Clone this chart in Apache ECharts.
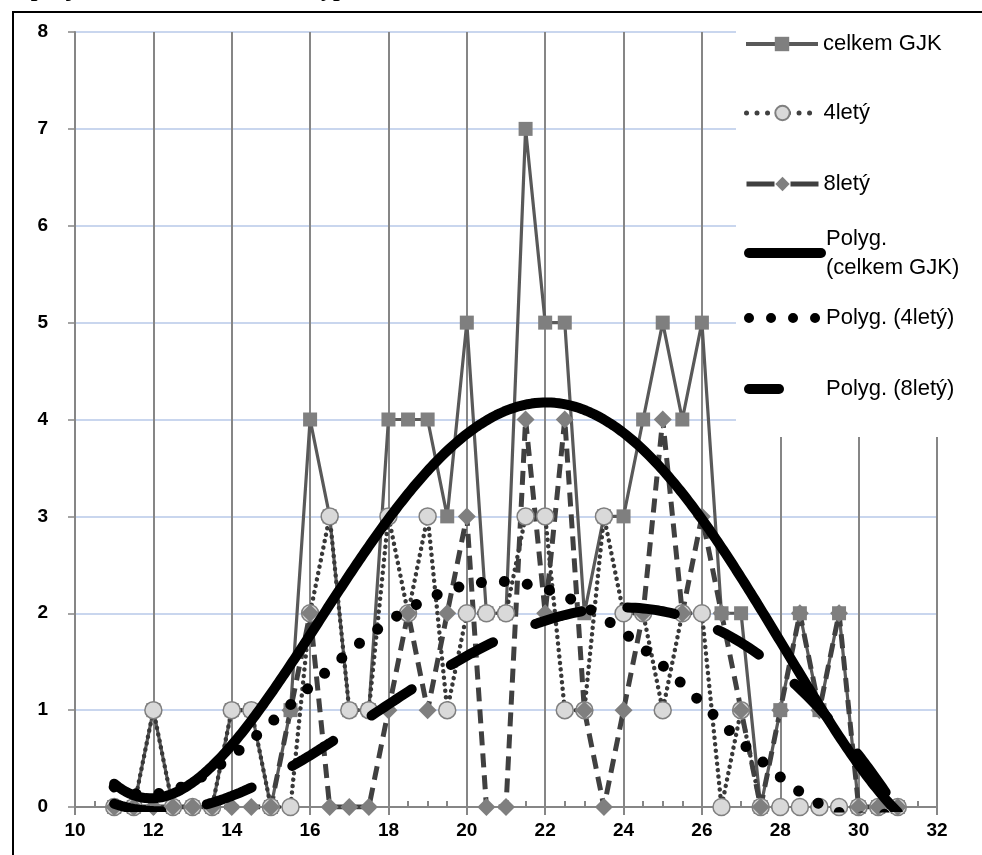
<!DOCTYPE html>
<html>
<head>
<meta charset="utf-8">
<script src="https://cdn.jsdelivr.net/npm/echarts@6/dist/echarts.min.js"></script>
<style>
  html, body { margin: 0; padding: 0; background: #fff; }
  #chart { width: 982px; height: 855px; }
</style>
</head>
<body>
<div id="chart"></div>
<script>
// Age in years, one sample every half year
const ages = [11, 11.5, 12, 12.5, 13, 13.5, 14, 14.5, 15, 15.5, 16, 16.5, 17, 17.5, 18, 18.5, 19, 19.5, 20, 20.5,
              21, 21.5, 22, 22.5, 23, 23.5, 24, 24.5, 25, 25.5, 26, 26.5, 27, 27.5, 28, 28.5, 29, 29.5, 30, 30.5, 31];
// Counts per age
const celkemGJK = [0, 0, 1, 0, 0, 0, 1, 1, 0, 1, 4, 3, 1, 1, 4, 4, 4, 3, 5, 2,
                   2, 7, 5, 5, 2, 3, 3, 4, 5, 4, 5, 2, 2, 0, 1, 2, 1, 2, 0, 0, 0];
const ctyrlety  = [0, 0, 1, 0, 0, 0, 1, 1, 0, 0, 2, 3, 1, 1, 3, 2, 3, 1, 2, 2,
                   2, 3, 3, 1, 1, 3, 2, 2, 1, 2, 2, 0, 1, 0, 0, 0, 0, 0, 0, 0, 0];
const osmilety  = [0, 0, 0, 0, 0, 0, 0, 0, 0, 1, 2, 0, 0, 0, 1, 2, 1, 2, 3, 0,
                   0, 4, 2, 4, 1, 0, 1, 2, 4, 2, 3, 2, 1, 0, 1, 2, 1, 2, 0, 0, 0];

// Axis ranges and tick steps
const xRange = [10, 32], xStep = 2;
const yRange = [0, 8], yStep = 1;

// Order of the polynomial trendlines
const TREND_ORDER = 4;

const pairs = (xs, ys) => xs.map((x, i) => [x, ys[i]]);

// Least-squares polynomial fit (centred abscissa for stability)
function polyFit(xs, ys, deg) {
  const n = deg + 1, c0 = 21, s = 10;
  const A = Array.from({ length: n }, () => new Array(n + 1).fill(0));
  xs.forEach((x, k) => {
    const t = (x - c0) / s;
    const p = [];
    for (let i = 0; i < n; i++) p.push(Math.pow(t, i));
    for (let i = 0; i < n; i++) {
      for (let j = 0; j < n; j++) A[i][j] += p[i] * p[j];
      A[i][n] += p[i] * ys[k];
    }
  });
  for (let c = 0; c < n; c++) {
    let piv = c;
    for (let r = c + 1; r < n; r++) if (Math.abs(A[r][c]) > Math.abs(A[piv][c])) piv = r;
    [A[c], A[piv]] = [A[piv], A[c]];
    for (let r = 0; r < n; r++) {
      if (r === c) continue;
      const f = A[r][c] / A[c][c];
      for (let k = c; k <= n; k++) A[r][k] -= f * A[c][k];
    }
  }
  const coef = A.map((row, i) => row[n] / row[i]);
  return x => {
    const t = (x - c0) / s;
    let v = 0;
    for (let i = n - 1; i >= 0; i--) v = v * t + coef[i];
    return v;
  };
}

function trendCurve(ys) {
  const f = polyFit(ages, ys, TREND_ORDER);
  const pts = [];
  const x0 = ages[0], x1 = ages[ages.length - 1];
  for (let i = 0; i <= 400; i++) {
    const x = x0 + (x1 - x0) * i / 400;
    pts.push([x, f(x)]);
  }
  return pts;
}

const chart = echarts.init(document.getElementById('chart'), null, { renderer: 'canvas' });

const GRID_V = '#868686';
const GRID_H = '#b7c8e8';
const TEXT_FONT = '"Liberation Sans", Arial, sans-serif';

const legendBase = {
  orient: 'vertical', left: 744, padding: 0, itemGap: 0,
  itemWidth: 72, itemHeight: 18, selectedMode: false,
  textStyle: { fontFamily: TEXT_FONT, fontSize: 22, color: '#000', lineHeight: 24 }
};
const hiddenSymbol = { opacity: 0 };

const option = {
  animation: false,
  backgroundColor: '#fff',
  grid: { left: 75, right: 45, top: 32, bottom: 48, containLabel: false },
  xAxis: [
    {
      type: 'value', min: xRange[0], max: xRange[1], interval: xStep,
      axisLine: { show: true, lineStyle: { color: GRID_V, width: 2 } },
      axisTick: { show: true, inside: false, length: 8, lineStyle: { color: GRID_V, width: 2 } },
      minorTick: { show: false },
      splitLine: { show: true, lineStyle: { color: GRID_V, width: 2 } },
      axisLabel: { margin: 14, color: '#000', fontFamily: TEXT_FONT, fontWeight: 'bold', fontSize: 19 }
    },
    {
      type: 'value', min: xRange[0], max: xRange[1], interval: xStep, position: 'bottom',
      axisLine: { show: false },
      axisTick: { show: false, inside: true, length: 6 },
      minorTick: { show: true, splitNumber: 4, length: 6, lineStyle: { color: GRID_V, width: 2 } },
      splitLine: { show: false },
      axisLabel: { show: false }
    }
  ],
  yAxis: {
    type: 'value', min: yRange[0], max: yRange[1], interval: yStep,
    axisLine: { show: true, lineStyle: { color: GRID_V, width: 2 } },
    axisTick: { show: true, inside: false, length: 7, lineStyle: { color: GRID_V, width: 1.5 } },
    splitLine: { show: true, lineStyle: { color: GRID_H, width: 1.5 } },
    axisLabel: { margin: 27, color: '#000', fontFamily: TEXT_FONT, fontWeight: 'bold', fontSize: 19 }
  },
  legend: [
    Object.assign({}, legendBase, {
      top: 44 - 12, data: ['celkem GJK'],
      lineStyle: { color: '#595959', width: 4 }
    }),
    Object.assign({}, legendBase, {
      top: 113 - 12, data: ['4letý'],
      lineStyle: { color: '#404040', width: 5, type: [0.01, 10.5], cap: 'round' }
    }),
    Object.assign({}, legendBase, {
      top: 184 - 12, data: ['8letý'],
      lineStyle: { color: '#404040', width: 5, type: [28, 16] }
    }),
    Object.assign({}, legendBase, {
      top: 253 - 43.5, data: ['Polyg. (celkem GJK)'],
      formatter: () => 'Polyg.\n(celkem GJK)',
      itemStyle: hiddenSymbol,
      lineStyle: { color: '#000', width: 10, cap: 'round' },
      textStyle: Object.assign({}, legendBase.textStyle, { lineHeight: 29, padding: [29, 0, 0, 0] })
    }),
    Object.assign({}, legendBase, {
      top: 318 - 12, data: ['Polyg. (4letý)'],
      itemStyle: hiddenSymbol,
      lineStyle: { color: '#000', width: 10, type: [0.01, 22], cap: 'round' }
    }),
    Object.assign({}, legendBase, {
      top: 389 - 12, data: ['Polyg. (8letý)'],
      itemStyle: hiddenSymbol,
      lineStyle: { color: '#000', width: 10, type: [30, 60], cap: 'round' }
    })
  ],
  graphic: [
    {
      type: 'rect', z: 1, silent: true,
      shape: { x: 736, y: 12, width: 260, height: 425 },
      style: { fill: '#fff' }
    },
    {
      type: 'rect', z: 20, silent: true,
      shape: { x: 13, y: 12, width: 1000, height: 900 },
      style: { fill: 'none', stroke: '#000', lineWidth: 2 }
    },
    {
      type: 'text', z: 20, silent: true, x: -72, y: 2,
      style: {
        text: 'Četnost a projekce věku studentů dle typu studia',
        font: 'bold 24px "Liberation Serif", "Times New Roman", serif',
        fill: '#000', verticalAlign: 'bottom', align: 'left'
      }
    }
  ],
  series: [
    {
      name: 'celkem GJK', type: 'line', data: pairs(ages, celkemGJK),
      symbol: 'rect', symbolSize: 14, showSymbol: true, showAllSymbol: true,
      itemStyle: { color: '#7f7f7f', borderWidth: 0 },
      lineStyle: { color: '#595959', width: 3.2 },
      z: 2
    },
    {
      name: '4letý', type: 'line', data: pairs(ages, ctyrlety),
      symbol: 'circle', symbolSize: 17, showSymbol: true, showAllSymbol: true,
      itemStyle: { color: '#d9d9d9', borderColor: '#7f7f7f', borderWidth: 1.5 },
      lineStyle: { color: '#383838', width: 4.5, type: [0.01, 6.5], cap: 'round' },
      z: 2
    },
    {
      name: '8letý', type: 'line', data: pairs(ages, osmilety),
      symbol: 'diamond', symbolSize: 18, showSymbol: true, showAllSymbol: true,
      itemStyle: { color: '#7f7f7f', borderWidth: 0 },
      lineStyle: { color: '#404040', width: 5, type: [14, 8] },
      z: 2
    },
    {
      name: 'Polyg. (celkem GJK)', type: 'line', data: trendCurve(celkemGJK),
      symbol: 'none', clip: true, itemStyle: { color: '#000' },
      lineStyle: { color: '#000', width: 10, cap: 'round', join: 'round' },
      z: 3
    },
    {
      name: 'Polyg. (4letý)', type: 'line', data: trendCurve(ctyrlety),
      symbol: 'none', clip: true, itemStyle: { color: '#000' },
      lineStyle: { color: '#000', width: 11, type: [0.01, 23], cap: 'round' },
      z: 3
    },
    {
      name: 'Polyg. (8letý)', type: 'line', data: trendCurve(osmilety),
      symbol: 'none', clip: true, itemStyle: { color: '#000' },
      lineStyle: { color: '#000', width: 10, type: [48, 46], cap: 'round' },
      z: 3
    }
  ]
};

chart.setOption(option);
</script>
</body>
</html>
